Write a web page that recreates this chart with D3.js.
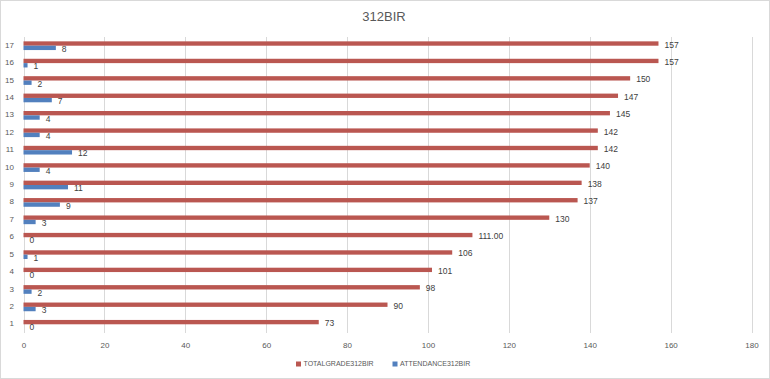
<!DOCTYPE html>
<html>
<head>
<meta charset="utf-8">
<script src="https://cdnjs.cloudflare.com/ajax/libs/d3/7.8.5/d3.min.js"></script>
<style>
  body { margin: 0; background: #fff; }
  text { font-family: "Liberation Sans", Arial, sans-serif; }
</style>
</head>
<body>
<div id="chart"></div>
<script>
var width = 770,
    height = 379;

// data
var categories = ["1","2","3","4","5","6","7","8","9","10","11","12","13","14","15","16","17"];
var totalGrade = [73, 90, 98, 101, 106, 111, 130, 137, 138, 140, 142, 142, 145, 147, 150, 157, 157];
var attendance = [0, 3, 2, 0, 1, 0, 3, 9, 11, 4, 12, 4, 4, 7, 2, 1, 8];
var totalLabels = ["73","90","98","101","106","111.00","130","137","138","140","142","142","145","147","150","157","157"];
var xTicks = [0, 20, 40, 60, 80, 100, 120, 140, 160, 180];
var seriesNames = ["TOTALGRADE312BIR", "ATTENDANCE312BIR"];
var colors = ["#BA5751", "#5280BE"];

// plot area (window.top is reserved, so no bare "top")
var plotLeft = 23.5, plotRight = 751.5, plotTop = 37, plotBottom = 333;

var svg = d3.select("#chart").append("svg")
    .attr("width", width)
    .attr("height", height);

svg.append("rect")
    .attr("x", 0.5).attr("y", 0.5)
    .attr("width", width - 1).attr("height", height - 1)
    .attr("fill", "#fff")
    .attr("stroke", "#d9d9d9");

svg.append("text")
    .attr("x", width / 2 - 1)
    .attr("y", 21)
    .attr("text-anchor", "middle")
    .attr("font-size", 13)
    .attr("fill", "#595959")
    .text("312BIR");

var x = d3.scaleLinear().domain([0, 180]).range([plotLeft, plotRight]);

var y = d3.scaleBand()
    .domain(categories.slice().reverse())
    .range([plotTop, plotBottom])
    .paddingInner(0.5)
    .paddingOuter(0.25);

var sub = d3.scaleBand()
    .domain([0, 1])
    .range([0, y.bandwidth()]);

// gridlines
svg.append("g")
    .selectAll("line")
    .data(xTicks)
  .enter().append("line")
    .attr("x1", function(d) { return Math.round(x(d)) + 0.5; })
    .attr("x2", function(d) { return Math.round(x(d)) + 0.5; })
    .attr("y1", plotTop)
    .attr("y2", plotBottom)
    .attr("stroke", "#d9d9d9");

// x axis tick labels
var xAxis = d3.axisBottom(x).tickValues(xTicks).tickSize(0).tickPadding(0);
var gx = svg.append("g")
    .attr("transform", "translate(0," + (plotBottom + 9) + ")")
    .call(xAxis);
gx.select(".domain").remove();
gx.selectAll("text")
    .attr("font-size", 8)
    .attr("font-family", "Liberation Sans, Arial, sans-serif")
    .attr("fill", "#595959");

// y axis category labels
var yAxis = d3.axisLeft(y).tickSize(0).tickPadding(0);
var gy = svg.append("g")
    .attr("transform", "translate(14,-0.5)")
    .call(yAxis);
gy.select(".domain").remove();
gy.selectAll("text")
    .attr("font-size", 8)
    .attr("font-family", "Liberation Sans, Arial, sans-serif")
    .attr("fill", "#595959");

var rows = categories.map(function(c, i) {
  return {cat: c, vals: [totalGrade[i], attendance[i]], labels: [totalLabels[i], String(attendance[i])]};
});

var row = svg.append("g").selectAll("g")
    .data(rows)
  .enter().append("g")
    .attr("transform", function(d) { return "translate(0," + y(d.cat) + ")"; });

row.selectAll("rect")
    .data(function(d) { return d.vals; })
  .enter().append("rect")
    .attr("x", x(0))
    .attr("y", function(d, i) { return sub(i); })
    .attr("width", function(d) { return x(d) - x(0); })
    .attr("height", sub.bandwidth())
    .attr("fill", function(d, i) { return colors[i]; });

row.selectAll("text")
    .data(function(d) { return d.vals.map(function(v, i) { return {v: v, label: d.labels[i]}; }); })
  .enter().append("text")
    .attr("x", function(d) { return x(d.v) + 6; })
    .attr("y", function(d, i) { return sub(i) + sub.bandwidth() / 2 + 1; })
    .attr("dy", "0.35em")
    .attr("font-size", 8.5)
    .attr("fill", "#404040")
    .text(function(d) { return d.label; });

// legend
var legendX = [296, 392.5];
var legend = svg.append("g").selectAll("g")
    .data(seriesNames)
  .enter().append("g")
    .attr("transform", function(d, i) { return "translate(" + legendX[i] + ",364)"; });

legend.append("rect")
    .attr("x", 0).attr("y", -2.5)
    .attr("width", 5).attr("height", 5)
    .attr("fill", function(d, i) { return colors[i]; });

legend.append("text")
    .attr("x", 7.5)
    .attr("y", 0)
    .attr("dy", "0.35em")
    .attr("font-size", 7)
    .attr("fill", "#595959")
    .text(function(d) { return d; });
</script>
</body>
</html>
